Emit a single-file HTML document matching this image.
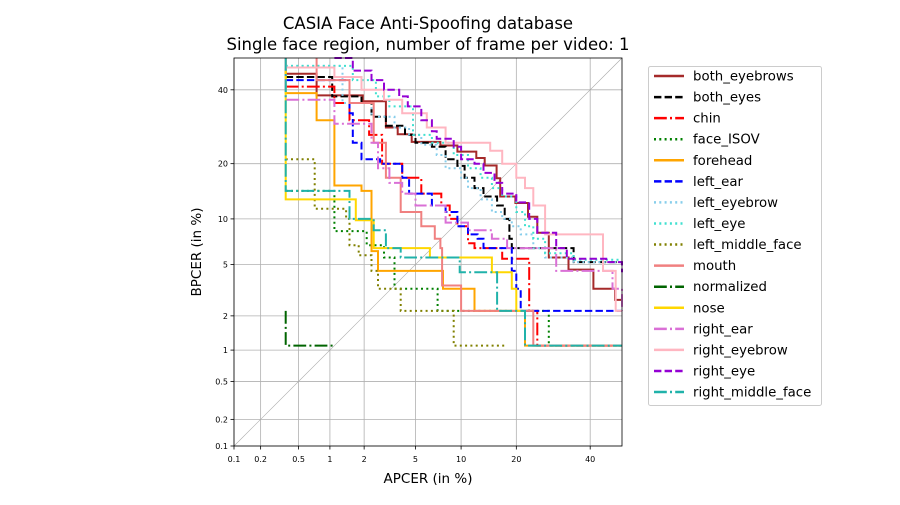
<!DOCTYPE html>
<html><head><meta charset="utf-8"><style>
body{margin:0;background:#fff;font-family:"Liberation Sans","DejaVu Sans",sans-serif}
svg text{font-family:"DejaVu Sans","Liberation Sans",sans-serif}
</style></head><body>
<svg id="chart" width="900" height="500" viewBox="0 0 900 500" xmlns="http://www.w3.org/2000/svg">
<rect width="900" height="500" fill="#fff"/>
<text x="428" y="29" text-anchor="middle" font-size="16.5">CASIA Face Anti-Spoofing database</text>
<text x="428" y="50" text-anchor="middle" font-size="16.5">Single face region, number of frame per video: 1</text>
<g id="grid"></g><g id="series"></g><g id="axes"></g><g id="legend"></g>
<text x="428" y="483" text-anchor="middle" font-size="13.5">APCER (in %)</text>
<text transform="translate(201,252) rotate(-90)" text-anchor="middle" font-size="13.5">BPCER (in %)</text>
</svg>
<script>
const ticks=[0.1,0.2,0.5,1,2,5,10,20,40];
const tickLabels=["0.1","0.2","0.5","1","2","5","10","20","40"];
const seriesNames=["both_eyebrows","both_eyes","chin","face_ISOV","forehead","left_ear","left_eyebrow","left_eye","left_middle_face","mouth","normalized","nose","right_ear","right_eyebrow","right_eye","right_middle_face"];
const both_eyebrows=[[0.37,50],[0.37,45],[0.75,38.3],[1.95,36.5],[3,29],[3.7,27.2],[4.7,25.2],[7.4,24.3],[9.5,22.8],[12.3,21.3],[13.7,19.6],[15.9,16.9],[16.6,13.5],[19.8,12.4],[22.7,10.3],[25,8.2],[28,5.6],[33.5,4.6],[41,3.3],[47.8,2.7],[50,2.7]];
const both_eyes=[[0.37,44],[1.05,38],[1.9,36],[2.3,32],[3,29.5],[4.2,27],[5,25],[6.5,24],[8,21],[9.5,19.5],[10.5,17],[12,15],[13.5,13.5],[16,12],[17.5,10],[18.5,7.5],[19,6.5],[30,6.5],[35,5.2],[50,5.2]];
const chin=[[0.37,41],[1.1,36],[1.5,31],[2.2,27],[2.8,20],[4,17],[5.5,14],[7.5,12],[8.5,10],[9.5,9],[11,7],[12,6.5],[16,6.5],[17,5.5],[20,5.5],[23,2.2],[25,1.1],[50,1.1]];
const face_ISOV=[[0.37,14.5],[1.1,8.4],[2.1,6.8],[2.9,5.6],[3.5,3.3],[7.1,2.2],[28,1.1],[50,1.1]];
const forehead=[[0.37,50],[0.37,39],[0.75,31],[1.1,15.5],[1.9,14.5],[2.3,6.2],[2.6,4.5],[7.7,3.3],[12,2.2],[20,2.2],[22,1.1],[50,1.1]];
const left_ear=[[0.37,43],[1.5,33],[1.6,25],[1.9,21],[2.7,20],[4,17],[4.5,14],[6.5,12],[8,11],[9.5,9],[11,8],[12.5,7.5],[13.5,6.5],[17,6.5],[19,4.5],[20,3.3],[21,2.2],[50,2.2]];
const left_eyebrow=[[0.37,47.5],[1.3,36],[2.3,32],[3.5,29],[4.5,27],[5.5,24.5],[7,22],[8,19],[10,17],[11,15],[13,13],[15,11],[17,10],[19,9],[21,8],[24,6.5],[27,5.6],[35,5.2],[50,5.2]];
const left_eye=[[0.37,47.5],[1.6,43],[2.5,38],[3.2,35],[4.8,27],[6.5,25],[9,22],[11,19],[13,17],[15,15],[17,13.5],[20,11],[22,9],[24,7.5],[27,6],[35,5.4],[50,5.4]];
const left_middle_face=[[0.37,21],[0.72,11.5],[1.4,10],[1.5,6.8],[1.8,5.8],[2.3,4.5],[2.6,3.3],[3.9,2.2],[9,1.1],[18,1.1]];
const mouth=[[0.75,50],[0.75,43],[1.5,36],[2.4,25],[3,17],[3.9,11],[5.5,9],[6.8,7.5],[7.4,6.5],[7.6,3.5],[10,2.2],[24,1.1],[50,1.1]];
const normalized=[[0.37,2.2],[0.37,1.1],[1.1,1.1]];
const nose=[[0.37,50],[0.37,13],[1.7,9.8],[2.4,6.5],[6.3,5.6],[15,4.4],[19,3.3],[20,2.2],[22,2.2]];
const right_ear=[[0.37,50],[0.37,37],[1.1,30],[2.3,25],[2.6,19],[3.2,16],[4,14],[5,12],[8,9.5],[11,8.5],[15,7.5],[18,6.5],[28,6.5],[30,4.5],[47,3.3],[50,2.2]];
const right_eyebrow=[[0.37,50],[0.37,47],[1.1,44],[1.9,40],[2.9,37],[4,33],[6,29],[8,25],[14.7,23],[17,20],[20,17],[22,15],[24,12],[27,8],[40,8],[44,4.5],[48,2.2],[50,2.2]];
const right_eye=[[1.1,50],[1.6,46],[2.3,43],[2.9,40],[3.8,38],[4.4,35],[5.5,31],[6.5,28],[7,26],[9,24],[10,21],[12,20],[13.5,18],[15.5,16],[17,14],[20,12.5],[23,10],[25,8.2],[30,6.5],[33,5.5],[45,5.2],[50,4.4]];
const right_middle_face=[[0.37,50],[0.37,14.5],[1.5,10],[2.4,8.5],[3,6.5],[3.9,5.6],[9.8,4.4],[16,2.2],[22,1.1],[50,1.1]];
const seriesData=[both_eyebrows,both_eyes,chin,face_ISOV,forehead,left_ear,left_eyebrow,left_eye,left_middle_face,mouth,normalized,nose,right_ear,right_eyebrow,right_eye,right_middle_face];
const colors=["#a52a2a","#000000","#ff0000","#008000","#ffa500","#0000ff","#87ceeb","#40e0d0","#808000","#f08080","#006400","#ffd700","#da70d6","#ffb6c1","#9400d3","#20b2aa"];
const dashes=["none","7.4,3.2","12.8,3.2,2,3.2","2,3.3","none","7.4,3.2","2,3.3","2,3.3","2,3.3","none","12.8,3.2,2,3.2","none","12.8,3.2,2,3.2","none","7.4,3.2","12.8,3.2,2,3.2"];

function ppf(p){const a=[-39.69683028665376,220.9460984245205,-275.9285104469687,138.357751867269,-30.66479806614716,2.506628277459239],b=[-54.47609879822406,161.5858368580409,-155.6989798598866,66.80131188771972,-13.28068155288572],c=[-0.007784894002430293,-0.3223964580411365,-2.400758277161838,-2.549732539343734,4.374664141464968,2.938163982698783],d=[0.007784695709041462,0.3224671290700398,2.445134137142996,3.754408661907416];const pl=0.02425;let q,r;
if(p<pl){q=Math.sqrt(-2*Math.log(p));return (((((c[0]*q+c[1])*q+c[2])*q+c[3])*q+c[4])*q+c[5])/((((d[0]*q+d[1])*q+d[2])*q+d[3])*q+1);}
if(p<=1-pl){q=p-0.5;r=q*q;return (((((a[0]*r+a[1])*r+a[2])*r+a[3])*r+a[4])*r+a[5])*q/(((((b[0]*r+b[1])*r+b[2])*r+b[3])*r+b[4])*r+1);}
q=Math.sqrt(-2*Math.log(1-p));return -(((((c[0]*q+c[1])*q+c[2])*q+c[3])*q+c[4])*q+c[5])/((((d[0]*q+d[1])*q+d[2])*q+d[3])*q+1);}
const L=234,R=622,T=58,B=446,z0=ppf(0.001),z1=0;
function sx(v){return L+(ppf(v/100)-z0)/(z1-z0)*(R-L);}
function sy(v){return B-(ppf(v/100)-z0)/(z1-z0)*(B-T);}
const NS="http://www.w3.org/2000/svg";
function mk(tag,parent,attrs){const e=document.createElementNS(NS,tag);for(const k in attrs)e.setAttribute(k,attrs[k]);parent.appendChild(e);return e;}
const grid=document.getElementById('grid'),axes=document.getElementById('axes'),ser=document.getElementById('series'),leg=document.getElementById('legend');
ticks.forEach((t,i)=>{
 let g1=mk('line',grid,{x1:sx(t),x2:sx(t),y1:T,y2:B,stroke:'#b0b0b0','stroke-width':0.8});
 
 
 let g2=mk('line',grid,{x1:L,x2:R,y1:sy(t),y2:sy(t),stroke:'#b0b0b0','stroke-width':0.8});
 
 
 mk('line',axes,{x1:sx(t),x2:sx(t),y1:B,y2:B+3.5,stroke:'#000','stroke-width':0.8});
 mk('line',axes,{x1:L-3.5,x2:L,y1:sy(t),y2:sy(t),stroke:'#000','stroke-width':0.8});
 let tx=mk('text',axes,{x:sx(t),y:B+16,'text-anchor':'middle','font-size':8});tx.textContent=tickLabels[i];
 
 
 let ty=mk('text',axes,{x:L-6,y:sy(t)+3,'text-anchor':'end','font-size':8});ty.textContent=tickLabels[i];
 
 
});
let diag=mk('line',grid,{x1:sx(0.1),y1:sy(0.1),x2:sx(50),y2:sy(50),stroke:'#aaa','stroke-width':0.6});


seriesData.forEach((pts,i)=>{
 let d='M'+sx(pts[0][0]).toFixed(1)+','+sy(pts[0][1]).toFixed(1);
 for(let j=1;j<pts.length;j++){d+=' H'+sx(pts[j][0]).toFixed(1)+' V'+sy(pts[j][1]).toFixed(1);}
 const p=mk('path',ser,{d:d,fill:'none',stroke:colors[i],'stroke-width':2});
 if(dashes[i]!=='none')p.setAttribute('stroke-dasharray',dashes[i]);
 
 
});
let fr=mk('rect',axes,{x:L,y:T,width:R-L,height:B-T,fill:'none',stroke:'#000','stroke-width':0.8});


let lb=mk('rect',leg,{x:648.5,y:66.5,width:173,height:339,fill:'#fff',stroke:'#ccc','stroke-width':1,rx:2});


seriesNames.forEach((n,i)=>{
 const y=76+i*21.07;
 const g=mk('g',leg,{});
 
 
 const l=mk('line',g,{x1:654,x2:684,y1:y,y2:y,stroke:colors[i],'stroke-width':2.5});
 if(dashes[i]!=='none')l.setAttribute('stroke-dasharray',dashes[i]);
 const t=mk('text',g,{x:693,y:y+4.5,'font-size':13.3});t.textContent=n;
});
</script>
</body></html>
